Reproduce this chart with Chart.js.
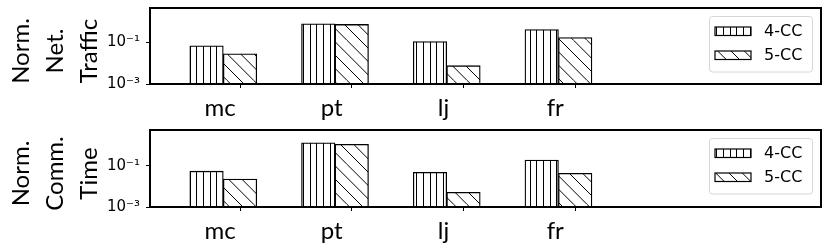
<!DOCTYPE html>
<html lang="en">
<head>
  <meta charset="UTF-8" />
  <title>Norm. Net. Traffic / Norm. Comm. Time</title>
  <script src="https://cdn.jsdelivr.net/npm/chart.js"></script>
  <style>
    html, body { margin: 0; padding: 0; background: #fff; }
    .panel { position: relative; width: 830px; }
  </style>
</head>
<body>
  <div class="panel" style="height:124px"><canvas id="trafficChart"></canvas></div>
  <div class="panel" style="height:125px"><canvas id="timeChart"></canvas></div>

  <script>
    // data
    const categories = ['mc', 'pt', 'lj', 'fr'];
    const seriesNames = ['4-CC', '5-CC'];
    const traffic4cc = [0.069, 0.79, 0.11, 0.41];
    const traffic5cc = [0.028, 0.73, 0.0076, 0.17];
    const time4cc = [0.055, 1.3, 0.048, 0.19];
    const time5cc = [0.023, 1.1, 0.0052, 0.043];
    const yTickValues = [1e-3, 1e-1];
    const yTickLabels = ['10⁻³', '10⁻¹'];

    // hatch fills: vertical lines for 4-CC, back-slashes for 5-CC
    function makeHatch(kind) {
      const c = document.createElement('canvas');
      const s = kind === 'vline' ? 20 : 40;
      c.width = s; c.height = s;
      const g = c.getContext('2d');
      g.fillStyle = '#fff';
      g.fillRect(0, 0, s, s);
      g.strokeStyle = '#000';
      g.lineWidth = 1;
      g.beginPath();
      if (kind === 'vline') {
        [3.5, 10.5, 16.5].forEach(x => { g.moveTo(x, 0); g.lineTo(x, s); });
      } else {
        for (let k = -3; k <= 3; k++) {
          const x0 = k * s / 3;
          g.moveTo(x0, 0);
          g.lineTo(x0 + s, s);
        }
      }
      g.stroke();
      return g.createPattern(c, 'repeat');
    }
    const vlineFill = makeHatch('vline');
    const diagFill = makeHatch('diag');

    // black box around the axes
    const framePlugin = {
      id: 'frame',
      afterDatasetsDraw(chart) {
        const { ctx, chartArea: a } = chart;
        ctx.save();
        ctx.strokeStyle = '#000';
        ctx.lineWidth = 2;
        ctx.strokeRect(a.left, a.top, a.right - a.left, a.bottom - a.top);
        ctx.restore();
      }
    };

    // legend inside the axes, upper right
    const boxLegend = {
      id: 'boxLegend',
      afterDraw(chart) {
        const { ctx, chartArea: a } = chart;
        const w = 103, h = 55.5;
        const x = a.right - 9 - w, y = a.top + 8;
        ctx.save();
        ctx.beginPath();
        ctx.roundRect(x + 0.5, y + 0.5, w, h, 3);
        ctx.fillStyle = 'rgba(255,255,255,0.8)';
        ctx.fill();
        ctx.strokeStyle = '#d6d6d6';
        ctx.lineWidth = 1;
        ctx.stroke();
        chart.data.datasets.forEach((ds, i) => {
          const cy = y + 15 + i * 24;
          ctx.fillStyle = ds.backgroundColor;
          ctx.fillRect(x + 6, cy - 4, 36, 8.5);
          ctx.strokeStyle = '#000';
          ctx.lineWidth = 1.2;
          ctx.strokeRect(x + 6, cy - 4, 36, 8.5);
          ctx.fillStyle = '#000';
          ctx.font = '16px "DejaVu Sans"';
          ctx.textBaseline = 'middle';
          ctx.textAlign = 'left';
          ctx.fillText(ds.label, x + 55, cy + 1);
        });
        ctx.restore();
      }
    };

    // three-line rotated y title
    const sideTitle = {
      id: 'sideTitle',
      afterDraw(chart, args, opts) {
        const { ctx, chartArea: a } = chart;
        const cy = (a.top + a.bottom) / 2 + 5;
        const baselines = [28.5, 62.5, 96.8];
        ctx.save();
        ctx.fillStyle = '#000';
        ctx.font = '24px Lato';
        ctx.textAlign = 'center';
        ctx.textBaseline = 'alphabetic';
        opts.lines.forEach((line, j) => {
          ctx.save();
          ctx.translate(baselines[j], cy);
          ctx.rotate(-Math.PI / 2);
          ctx.fillText(line, 0, 0);
          ctx.restore();
        });
        ctx.restore();
      }
    };

    function makeChart(id, vals4, vals5, titleLines, yMax, topPad, xAxisHeight) {
      return new Chart(document.getElementById(id), {
        type: 'bar',
        data: {
          datasets: [
            {
              label: seriesNames[0],
              data: vals4.map((v, i) => ({ x: i, y: v })),
              backgroundColor: vlineFill,
              borderColor: '#000',
              borderWidth: 1.3
            },
            {
              label: seriesNames[1],
              data: vals5.map((v, i) => ({ x: i, y: v })),
              backgroundColor: diagFill,
              borderColor: '#000',
              borderWidth: 1.3
            }
          ]
        },
        options: {
          responsive: true,
          maintainAspectRatio: false,
          animation: false,
          layout: { padding: { top: topPad, right: 9, left: 0, bottom: 0 } },
          datasets: { bar: { barThickness: 33.5, grouped: true } },
          plugins: {
            legend: { display: false },
            tooltip: { enabled: false },
            sideTitle: { lines: titleLines }
          },
          scales: {
            x: {
              type: 'linear',
              min: -0.656,
              max: 5.35,
              offset: false,
              afterBuildTicks: s => { s.ticks = categories.map((c, i) => ({ value: i + 0.15 })); },
              afterFit: s => {
                s.height = xAxisHeight;
                s.paddingLeft = 0; s.paddingRight = 0;
              },
              grid: { display: true, offset: false, drawOnChartArea: false, drawTicks: true, tickLength: 4, color: '#000', tickColor: '#000', lineWidth: 1 },
              border: { display: false },
              ticks: {
                autoSkip: false,
                maxRotation: 0,
                labelOffset: -20,
                padding: 6,
                color: '#000',
                font: { family: 'Lato', size: 24 },
                callback: (v, i) => categories[i]
              }
            },
            y: {
              type: 'logarithmic',
              min: 1e-3,
              max: yMax,
              afterBuildTicks: s => { s.ticks = yTickValues.map(v => ({ value: v })); },
              afterFit: s => {
                s.width = 150;
                s.paddingTop = 0; s.paddingBottom = 0;
              },
              grid: { display: true, drawOnChartArea: false, drawTicks: true, tickLength: 4, color: '#000', tickColor: '#000', lineWidth: 1 },
              border: { display: false },
              ticks: {
                padding: 6,
                color: '#000',
                font: { family: 'DejaVu Sans', size: 15 },
                callback: (v, i) => yTickLabels[i]
              }
            }
          }
        },
        plugins: [framePlugin, boxLegend, sideTitle]
      });
    }

    makeChart('trafficChart', traffic4cc, traffic5cc, ['Norm.', 'Net.', 'Traffic'], 4.5, 8, 40);
    makeChart('timeChart', time4cc, time5cc, ['Norm.', 'Comm.', 'Time'], 5.5, 6, 42);
  </script>
</body>
</html>
